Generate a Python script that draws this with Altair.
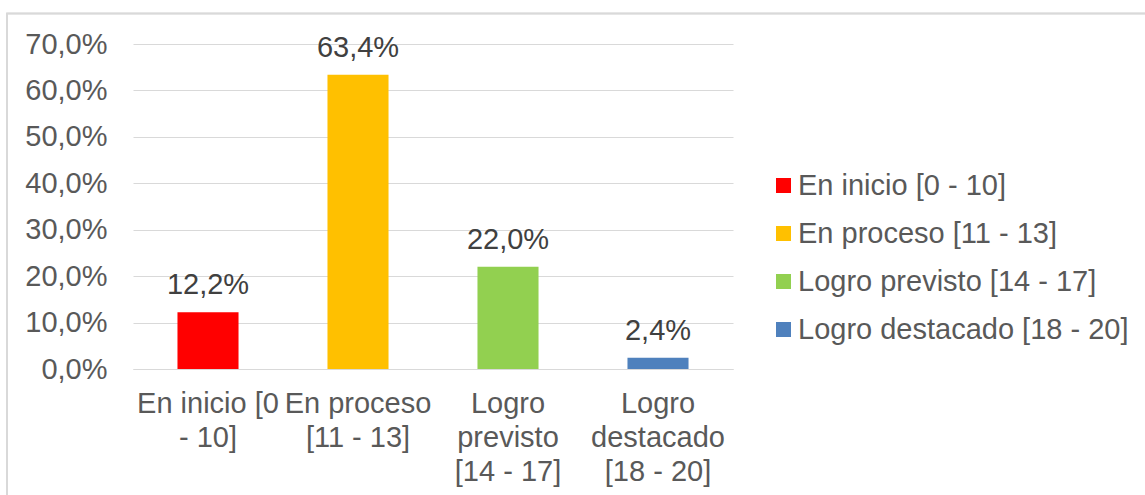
import altair as alt
import pandas as pd

categories = ["En inicio [0 - 10]", "En proceso [11 - 13]", "Logro previsto [14 - 17]", "Logro destacado [18 - 20]"]
values = [0.122, 0.634, 0.220, 0.024]
wrapped = [["En inicio [0", "- 10]"], ["En proceso", "[11 - 13]"], ["Logro", "previsto", "[14 - 17]"], ["Logro", "destacado", "[18 - 20]"]]
colors = ["#FF0000", "#FFC000", "#92D050", "#4F81BD"]
y_ticks = [0, 0.1, 0.2, 0.3, 0.4, 0.5, 0.6, 0.7]

df = pd.DataFrame({"cat": categories, "value": values})

FONT = "Liberation Sans"
GRID = "#D9D9D9"
FS = 29

# build multi-line label expression
expr = "''"
for c, w in reversed(list(zip(categories, wrapped))):
    arr = "[" + ",".join("'" + s + "'" for s in w) + "]"
    expr = f"datum.value == '{c}' ? {arr} : ({expr})"

x_enc = alt.X("cat:N", sort=categories, title=None,
              scale=alt.Scale(paddingInner=0.593, paddingOuter=0.2965),
              axis=alt.Axis(labelAngle=0, labelExpr=expr, labelFont=FONT, labelFontSize=FS,
                            labelColor="#595959", labelLineHeight=34, labelBaseline="top",
                            labelPadding=20, ticks=False, tickSize=0, domainColor=GRID,
                            domainWidth=1, grid=False))
y_enc = alt.Y("value:Q", title=None,
              scale=alt.Scale(domain=[0, 0.7], nice=False),
              axis=alt.Axis(values=y_ticks, labelExpr="replace(format(datum.value, '.1%'), '.', ',')",
                            labelFont=FONT, labelFontSize=FS, labelColor="#595959", labelPadding=26,
                            ticks=False, tickSize=0, domain=False, gridColor=GRID, gridWidth=1))

bars = alt.Chart(df).mark_bar().encode(
    x=x_enc,
    y=y_enc,
    color=alt.Color("cat:N", sort=categories, title=None,
                    scale=alt.Scale(domain=categories, range=colors),
                    legend=alt.Legend(orient="none", legendX=636, legendY=127, symbolType="square",
                                      symbolSize=225, symbolStrokeWidth=0, labelFont=FONT,
                                      labelFontSize=FS, labelColor="#595959", rowPadding=18,
                                      labelOffset=0, padding=0, labelLimit=500)),
)

labels = alt.Chart(df).transform_calculate(
    txt="replace(format(datum.value, '.1%'), '.', ',')"
).mark_text(font=FONT, fontSize=FS, color="#404040", baseline="alphabetic", dy=-18).encode(
    x=alt.X("cat:N", sort=categories),
    y=alt.Y("value:Q"),
    text="txt:N",
)

border = alt.Chart(df).mark_rect(fill=None, stroke=GRID, strokeWidth=1.3).encode(
    x=alt.value(-126), x2=alt.value(1030), y=alt.value(-30.5), y2=alt.value(470)
)

chart = alt.layer(border, bars, labels).properties(
    width=600, height=325,
    autosize=alt.AutoSizeParams(type="none"),
    padding={"left": 133, "top": 44, "right": 412, "bottom": 126},
).configure_view(stroke=None)

chart.save("out.html", embed_options={"renderer": "svg", "actions": False})
